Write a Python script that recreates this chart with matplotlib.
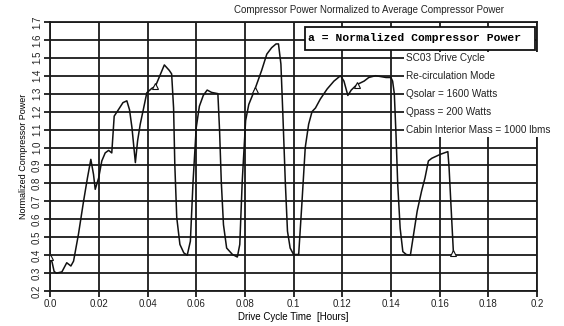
# Normalized compressor power over the SC03 drive cycle
import matplotlib
matplotlib.use('Agg')
import matplotlib.pyplot as plt
from matplotlib.patches import Rectangle

plt.rcParams['font.family'] = ['Liberation Sans', 'DejaVu Sans']

# drive cycle time [hours]
t = [0.0, 0.0008, 0.0016, 0.0025, 0.0048, 0.0068, 0.0085, 0.0096, 0.0116, 0.0137,
     0.0153, 0.0167, 0.0178, 0.0185, 0.0199, 0.0212, 0.0226, 0.024, 0.0253, 0.0263,
     0.028, 0.0299, 0.0315, 0.0326, 0.0336, 0.035, 0.0359, 0.037, 0.0384, 0.0397,
     0.0418, 0.0432, 0.0469, 0.0489, 0.0499, 0.0507, 0.0512, 0.052, 0.0533, 0.0549,
     0.0563, 0.0576, 0.0587, 0.06, 0.0613, 0.0629, 0.0645, 0.0663, 0.0689, 0.0696,
     0.0703, 0.0712, 0.0725, 0.0749, 0.0769, 0.0779, 0.0789, 0.0803, 0.0816, 0.0840,
     0.0869, 0.089, 0.091, 0.0928, 0.0938, 0.0948, 0.0956, 0.0966, 0.0975, 0.0986,
     0.1, 0.1021, 0.1034, 0.1048, 0.1062, 0.1076, 0.109, 0.111, 0.1138, 0.1166,
     0.1193, 0.1207, 0.1223, 0.1237, 0.126, 0.129, 0.1309, 0.1337, 0.138, 0.14,
     0.1407, 0.1414, 0.1421, 0.1428, 0.1438, 0.1449, 0.1463, 0.148, 0.1491, 0.1508,
     0.1526, 0.154, 0.1554, 0.1568, 0.1603, 0.1634, 0.1639, 0.1646, 0.1653, 0.1657]

# normalized compressor power
p = [0.39, 0.36, 0.31, 0.30, 0.307, 0.358, 0.34, 0.367, 0.516, 0.70,
     0.83, 0.934, 0.85, 0.767, 0.83, 0.925, 0.97, 0.984, 0.97, 1.175,
     1.21, 1.25, 1.26, 1.21, 1.11, 0.916, 1.036, 1.13, 1.22, 1.305,
     1.33, 1.34, 1.46, 1.43, 1.41, 1.22, 0.906, 0.61, 0.46, 0.413,
     0.40, 0.478, 0.81, 1.11, 1.23, 1.29, 1.32, 1.307, 1.30, 1.093,
     0.81, 0.57, 0.44, 0.404, 0.39, 0.46, 0.81, 1.15, 1.24, 1.32,
     1.43, 1.52, 1.556, 1.577, 1.577, 1.465, 1.186, 0.81, 0.534, 0.44,
     0.404, 0.404, 0.683, 1.0, 1.13, 1.2, 1.22, 1.27, 1.326, 1.37,
     1.40, 1.37, 1.29, 1.32, 1.35, 1.37, 1.39, 1.40, 1.39, 1.39,
     1.37, 1.30, 1.07, 0.795, 0.55, 0.42, 0.404, 0.40, 0.497, 0.646,
     0.757, 0.83, 0.925, 0.94, 0.962, 0.977, 0.888, 0.70, 0.515, 0.41]

marker_idx = [0, 31, 59, 84, 109]

xticks = [0.0, 0.02, 0.04, 0.06, 0.08, 0.1, 0.12, 0.14, 0.16, 0.18, 0.2]
xlabels = ['0.0', '0.02', '0.04', '0.06', '0.08', '0.1', '0.12', '0.14', '0.16', '0.18', '0.2']
yticks = [0.2, 0.3, 0.4, 0.5, 0.6, 0.7, 0.8, 0.9, 1.0, 1.1, 1.2, 1.3, 1.4, 1.5, 1.6, 1.7]

notes = ['SC03 Drive Cycle', 'Re-circulation Mode', 'Qsolar = 1600 Watts',
         'Qpass = 200 Watts', 'Cabin Interior Mass = 1000 lbms']
note_y = [1.5, 1.4, 1.3, 1.2, 1.1]

fig = plt.figure(figsize=(5.64, 3.26), dpi=100)
ax = fig.add_axes([0.089, 0.107, 0.863, 0.826])

ax.plot(t, p, color='#111111', lw=1.1, zorder=3)
ax.plot([t[i] for i in marker_idx], [p[i] for i in marker_idx], ls='none',
        marker='^', ms=4, mfc='white', mec='#111111', mew=0.8, zorder=4)

ax.set_xlim(0, 0.2)
ax.set_ylim(0.2, 1.7)
ax.set_xticks(xticks)
ax.set_xticklabels(xlabels)
ax.set_yticks(yticks)
ax.set_yticklabels(['%.1f' % v for v in yticks], rotation=90, va='center')
ax.tick_params(direction='out', length=4, width=1.3, color='#1a1a1a',
               labelsize=7, pad=2, labelcolor='#222222')
ax.grid(True, color='#1a1a1a', lw=1.3)
for s in ax.spines.values():
    s.set_linewidth(1.3)
    s.set_color('#1a1a1a')

# white area behind the run notes
ax.add_patch(Rectangle((0.1455, 1.06), 0.06, 0.47, facecolor='white',
                       edgecolor='none', zorder=2.6, clip_on=False))
for s, yv in zip(notes, note_y):
    ax.text(0.1462, yv, s, fontsize=7.2, ha='left', va='center',
            color='#222222', zorder=5)

# legend box
ax.add_patch(Rectangle((0.1047, 1.544), 0.0945, 0.128, facecolor='white',
                       edgecolor='#111111', lw=1.3, zorder=4.5))
ax.text(0.1060, 1.608, 'a = Normalized Compressor Power', fontsize=8.2,
        family=['Liberation Mono', 'DejaVu Sans Mono'], fontweight='bold',
        ha='left', va='center', zorder=5)

ax.set_xlabel('Drive Cycle Time  [Hours]', fontsize=7, labelpad=2)
ax.set_ylabel('Normalized Compressor Power', fontsize=6.5, labelpad=3)
fig.text(0.655, 0.968, 'Compressor Power Normalized to Average Compressor Power',
         fontsize=7, ha='center', va='center', color='#222222')

plt.savefig('out.png', dpi=100)
